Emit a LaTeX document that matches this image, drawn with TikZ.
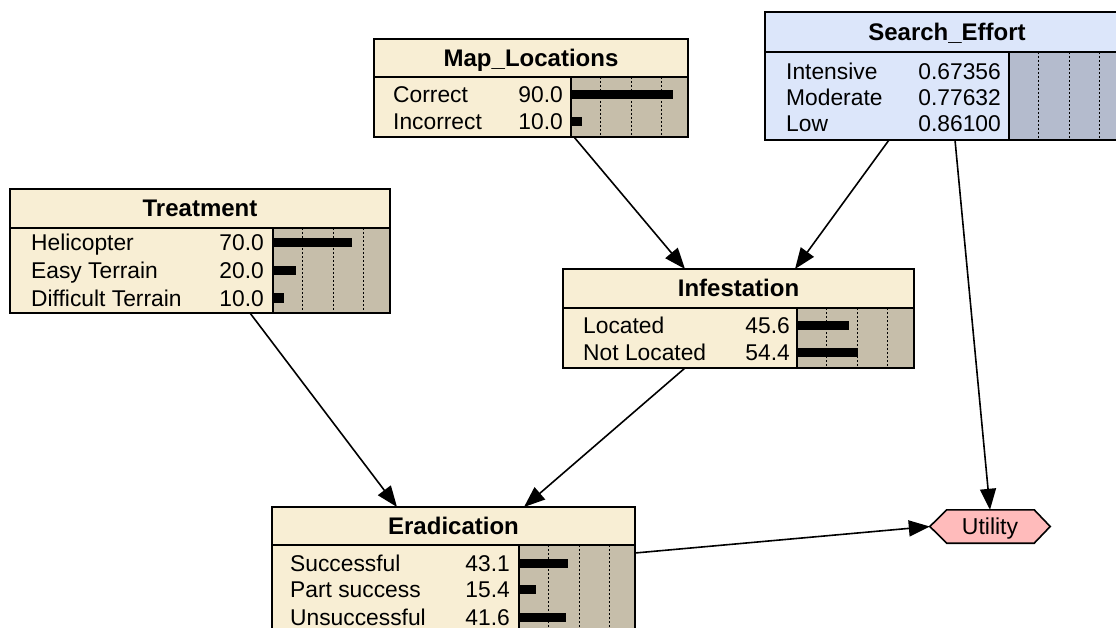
\documentclass[tikz,border=0pt]{standalone}
\usepackage{fontspec}
\setmainfont{Liberation Sans}
\usetikzlibrary{arrows.meta}
\pgfdeclarelayer{bg}
\pgfsetlayers{bg,main}
\definecolor{tanbody}{RGB}{248,238,212}
\definecolor{tanbar}{RGB}{198,190,170}
\definecolor{bluebody}{RGB}{220,230,250}
\definecolor{bluebar}{RGB}{180,187,205}
\definecolor{utilfill}{RGB}{255,187,187}
\tikzset{
  boxframe/.style={draw=black, line width=2pt, inner sep=0pt, outer sep=0pt, rectangle},
  frameln/.style={draw=black, line width=2pt},
  gridln/.style={draw=black, line width=1pt, dash pattern=on 2pt off 2pt},
  ttl/.style={inner sep=0pt, font=\bfseries\fontsize{24}{28}\selectfont},
  lab/.style={inner sep=0pt, font=\fontsize{22.8}{27}\selectfont},
  barfill/.style={fill=black},
  arr/.style={draw=black, line width=1.6pt, -{Triangle[length=21pt,width=16pt]}},
  utilshape/.style={draw=black, line width=1.6pt, fill=utilfill},
}
% #1 name #2 x1 #3 y1 #4 x2 #5 y2 #6 separator y #7 bar x #8 colour prefix #9 title
\newcommand{\netbox}[9]{%
  \fill[#8body] (#2,#3) rectangle (#4,#5);
  \fill[#8bar] (#7,#6) rectangle (#4,#5);
  \foreach \g in {29,60.5,90} \draw[gridln] ({#7+\g},#6) -- ({#7+\g},#5);
  \node[boxframe, minimum width={(#4-#2)*1pt}, minimum height={(#5-#3)*1pt}] (#1) at ({(#2+#4)/2},{(#3+#5)/2}) {};
  \draw[frameln] (#2,#6) -- (#4,#6);
  \draw[frameln] (#7,#6) -- (#7,#5);
  \node[ttl, anchor=base] (#1-title) at ({(#2+#4)/2},{(#3+#6)/2+8.5}) {#9};
}
% row with bar: #1 id #2 label x #3 value right x #4 row y #5 label #6 value #7 bar x #8 percent
\newcommand{\nrowb}[8]{%
  \node[lab, anchor=base west] (#1-l) at (#2,{#4+8}) {#5};
  \node[lab, anchor=base east] (#1-v) at (#3,{#4+8}) {#6};
  \fill[barfill] (#7,{#4-4.5}) rectangle ({#7+1.13*#8},{#4+4.5});
}
% row without bar
\newcommand{\nrow}[6]{%
  \node[lab, anchor=base west] (#1-l) at (#2,{#4+8}) {#5};
  \node[lab, anchor=base east] (#1-v) at (#3,{#4+8}) {#6};
}
\begin{document}
\begin{tikzpicture}[x=1pt,y=-1pt]
\useasboundingbox (0,0) rectangle (1116,628);
\clip (0,0) rectangle (1116,628);

% Map_Locations
\netbox{map}{374}{39}{688}{137}{77}{571}{tan}{Map\_Locations}
\nrowb{map1}{393}{563}{95}{Correct}{90.0}{571}{90}
\nrowb{map2}{393}{563}{122}{Incorrect}{10.0}{571}{10}

% Search_Effort
\netbox{se}{765}{12}{1129}{140}{52}{1009}{blue}{Search\_Effort}
\nrow{se1}{786}{1001}{72}{Intensive}{0.67356}
\nrow{se2}{786}{1001}{98}{Moderate}{0.77632}
\nrow{se3}{786}{1001}{124}{Low}{0.86100}

% Treatment
\netbox{treat}{10}{189}{390}{313}{228}{273}{tan}{Treatment}
\nrowb{tr1}{31}{264}{243}{Helicopter}{70.0}{273}{70}
\nrowb{tr2}{31}{264}{271}{Easy Terrain}{20.0}{273}{20}
\nrowb{tr3}{31}{264}{298}{Difficult Terrain}{10.0}{273}{10}

% Infestation
\netbox{inf}{563}{269}{914}{368}{308}{797}{tan}{Infestation}
\nrowb{in1}{583}{790}{325}{Located}{45.6}{797}{45.6}
\nrowb{in2}{583}{790}{352}{Not Located}{54.4}{797}{54.4}

% Eradication
\netbox{erad}{272}{507}{635}{645}{545}{519}{tan}{Eradication}
\nrowb{er1}{290}{510}{563}{Successful}{43.1}{519}{43.1}
\nrowb{er2}{290}{510}{589}{Part success}{15.4}{519}{15.4}
\nrowb{er3}{290}{510}{617}{Unsuccessful}{41.6}{519}{41.6}

% Utility
\node[inner sep=0pt, minimum width=120pt, minimum height=33pt, text depth=0pt, font=\fontsize{23}{27}\selectfont] (util) at (990,526.5) {Utility};
\begin{pgfonlayer}{bg}
\filldraw[utilshape] (util.west) -- ([xshift=17pt]util.north west) -- ([xshift=-16pt]util.north east) -- (util.east) -- ([xshift=-16pt]util.south east) -- ([xshift=17pt]util.south west) -- cycle;
\end{pgfonlayer}

% Connectors
\draw[arr] ([xshift=43pt]map.south) -- ([xshift=-53.5pt]inf.north);
\draw[arr] ([xshift=-58pt]se.south) -- ([xshift=56.5pt]inf.north);
\draw[arr] ([xshift=8pt]se.south) -- (util.north);
\draw[arr] ([xshift=50pt]treat.south) -- ([xshift=-56.5pt]erad.north);
\draw[arr] ([xshift=-53.5pt]inf.south) -- ([xshift=70.5pt]erad.north);
\draw[arr] ([yshift=23pt]erad.east) -- (util.west);
\end{tikzpicture}
\end{document}
